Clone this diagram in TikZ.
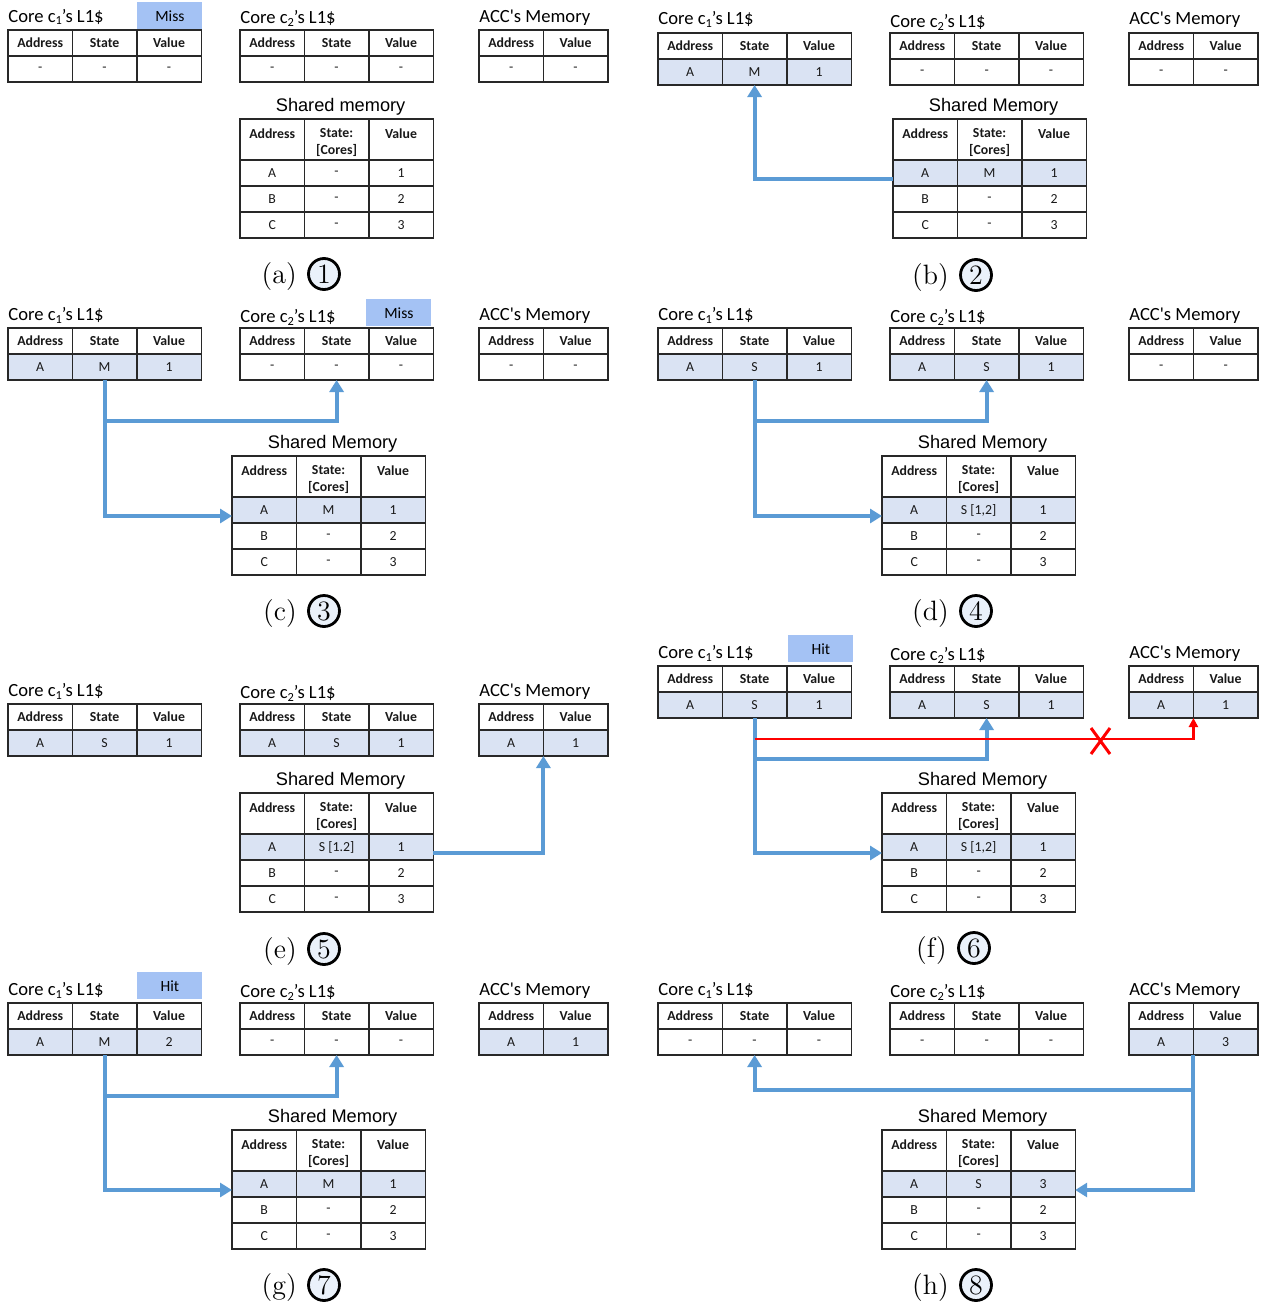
\documentclass[tikz,border=0pt]{standalone}
\usepackage{fontspec}
\usetikzlibrary{arrows.meta,calc}
\newfontfamily\calibri{Carlito}
\newfontfamily\arialf{Liberation Sans}
\definecolor{flowblue}{RGB}{91,155,213}
\definecolor{rowhl}{RGB}{218,227,243}
\definecolor{flagblue}{RGB}{164,194,244}
\definecolor{numfill}{RGB}{234,241,250}
\definecolor{gridline}{RGB}{40,40,40}

\tikzset{
  cell/.style={draw=gridline, line width=0.7pt, anchor=north west, minimum width=32.2pt,
    inner sep=0pt, outer sep=0pt, align=center, text=black!90,
    font=\calibri\fontsize{6.9}{8.5}\selectfont},
  hdr/.style={font=\calibri\bfseries\fontsize{6.9}{8.5}\selectfont},
  hl/.style={fill=rowhl},
  ttl/.style={anchor=base west, inner sep=0pt, font=\calibri\fontsize{9.3}{11}\selectfont},
  shttl/.style={anchor=base, inner sep=0pt, font=\arialf\fontsize{9.1}{11}\selectfont},
  flag/.style={fill=flagblue, anchor=north west, minimum width=32.5pt, minimum height=13.5pt,
    inner sep=0pt, font=\calibri\fontsize{7.8}{9}\selectfont},
  flow/.style={draw=flowblue, line width=2pt, -{Triangle[width=7pt,length=6pt]}},
  blocked/.style={draw=red, line width=1.4pt, -{Triangle[width=4.5pt,length=4.5pt]}},
  capnum/.style={circle, draw=black, line width=1.4pt, fill=numfill, minimum size=15.5pt,
    inner sep=0pt, font=\fontsize{14}{16}\selectfont},
  caplbl/.style={anchor=base east, inner sep=0pt, font=\fontsize{14}{16}\selectfont},
}

% one row of three cells: prefix, x, y, height, style, texts
\newcommand\trirow[8]{%
  \node[cell,#5,minimum height=#4*0.5pt] (#1a) at (#2,#3) {#6};
  \node[cell,#5,minimum height=#4*0.5pt] (#1b) at (#1a.north east) {#7};
  \node[cell,#5,minimum height=#4*0.5pt] (#1c) at (#1b.north east) {#8};}
% one row of two cells
\newcommand\birow[7]{%
  \node[cell,#5,minimum height=#4*0.5pt] (#1a) at (#2,#3) {#6};
  \node[cell,#5,minimum height=#4*0.5pt] (#1b) at (#1a.north east) {#7};}
% L1 cache: name, x, y, title lift, row style, address, state, value, title
\newcommand\cachetable[9]{%
  \trirow{#1h}{#2}{#3}{26}{hdr}{Address}{State}{Value}
  \trirow{#1d}{#2}{#3+26}{26}{#5}{#6}{#7}{#8}
  \node[ttl] (#1t) at ($(#1ha.north west)+(0,-#4)$) {#9};}
% accelerator memory: name, x, y, row style, address, value
\newcommand\acctable[6]{%
  \birow{#1h}{#2}{#3}{26}{hdr}{Address}{Value}
  \birow{#1d}{#2}{#3+26}{26}{#4}{#5}{#6}
  \node[ttl] (#1t) at ($(#1ha.north west)+(0,-8)$) {ACC\symbol{39}s Memory};}
% header strut that lowers the two-line header text a little
\newcommand\hstrut{\rule{0pt}{7.4pt}}
% shared memory: name, x, y, row-A style, state of A, value of A, title
\newcommand\sharedtable[7]{%
  \trirow{#1h}{#2}{#3}{41}{hdr}{\hstrut Address\\~}{\hstrut State:\\{[Cores]}}{\hstrut Value\\~}
  \trirow{#1r1}{#2}{#3+41}{26}{#4}{A}{#5}{#6}
  \trirow{#1r2}{#2}{#3+67}{26}{}{B}{-}{2}
  \trirow{#1r3}{#2}{#3+93}{26}{}{C}{-}{3}
  \node[shttl] (#1t) at ($(#1hb.north)+(4,-8)$) {#7};}
% caption: name, x, y, letter, step number
\newcommand\panelcap[5]{%
  \node[capnum] (#1n) at (#2,#3) {#5};
  \node[caplbl] (#1l) at ($(#1n.west |- #1n.base)+(-10,0)$) {(#4)};}

\newcommand\lowone[1]{\raisebox{-1.5pt}{\fontsize{6.2}{7}\selectfont #1}}
\newcommand\cone{Core c\lowone{1}’s L1\$}
\newcommand\ctwo{Core c\lowone{2}’s L1\$}

\begin{document}
\begin{tikzpicture}[x=0.5pt,y=-0.5pt]
\useasboundingbox[fill=white] (0,0) rectangle (1265,1306);

% (a) step 1
\cachetable{ac1}{8}{30}{8}{}{-}{-}{-}{\cone}
\node[flag] (amiss) at (137,2) {Miss};
\cachetable{ac2}{240}{30}{6}{}{-}{-}{-}{\ctwo}
\acctable{aacc}{479}{30}{}{-}{-}
\sharedtable{as}{240}{119}{}{-}{1}{Shared memory}
\panelcap{a}{324}{274}{a}{1}

% (b) step 2
\cachetable{bc1}{658}{33}{8}{hl}{A}{M}{1}{\cone}
\cachetable{bc2}{890}{33}{6}{}{-}{-}{-}{\ctwo}
\acctable{bacc}{1129}{33}{}{-}{-}
\sharedtable{bs}{893}{119}{hl}{M}{1}{Shared Memory}
\panelcap{b}{976}{275}{b}{2}
\draw[flow] ($(bsr1a.west)+(0,6)$) -| (bc1db.south);

% (c) step 3
\cachetable{cc1}{8}{328}{8}{hl}{A}{M}{1}{\cone}
\cachetable{cc2}{240}{328}{6}{}{-}{-}{-}{\ctwo}
\node[flag] (cmiss) at (366,299) {Miss};
\acctable{cacc}{479}{328}{}{-}{-}
\sharedtable{cs}{232}{456}{hl}{M}{1}{Shared Memory}
\panelcap{c}{324}{611}{c}{3}
\draw[flow] (cc1db.south) |- ($(csr1a.west)+(0,6)$);
\coordinate (cj) at ($(cc1db.south)+(0,41)$);
\draw[flow] (cj) -| (cc2db.south);

% (d) step 4
\cachetable{dc1}{658}{328}{8}{hl}{A}{S}{1}{\cone}
\cachetable{dc2}{890}{328}{6}{hl}{A}{S}{1}{\ctwo}
\acctable{dacc}{1129}{328}{}{-}{-}
\sharedtable{ds}{882}{456}{hl}{S [1,2]}{1}{Shared Memory}
\panelcap{d}{976}{611}{d}{4}
\draw[flow] (dc1db.south) |- ($(dsr1a.west)+(0,6)$);
\coordinate (dj) at ($(dc1db.south)+(0,41)$);
\draw[flow] (dj) -| (dc2db.south);

% (e) step 5
\cachetable{ec1}{8}{704}{8}{hl}{A}{S}{1}{\cone}
\cachetable{ec2}{240}{704}{6}{hl}{A}{S}{1}{\ctwo}
\acctable{eacc}{479}{704}{hl}{A}{1}
\sharedtable{es}{240}{793}{hl}{S [1.2]}{1}{Shared Memory}
\panelcap{e}{324}{949}{e}{5}
\draw[flow] ($(esr1c.east)+(0,6)$) -| (eaccda.south east);

% (f) step 6
\cachetable{fc1}{658}{666}{8}{hl}{A}{S}{1}{\cone}
\node[flag] (fhit) at (788,635) {Hit};
\cachetable{fc2}{890}{666}{6}{hl}{A}{S}{1}{\ctwo}
\acctable{facc}{1129}{666}{hl}{A}{1}
\sharedtable{fs}{882}{793}{hl}{S [1,2]}{1}{Shared Memory}
\panelcap{f}{974}{948}{f}{6}
\draw[flow] (fc1db.south) |- ($(fsr1a.west)+(0,6)$);
\coordinate (fj) at ($(fc1db.south)+(0,41)$);
\draw[flow] (fj) -| (fc2db.south);
\coordinate (fr) at ($(fc1db.south)+(0,21)$);
\draw[blocked] (fr) -| (faccda.south east);
\draw[red, line width=1.5pt] (1091,728) -- (1110,754) (1110,728) -- (1091,754);

% (g) step 7
\cachetable{gc1}{8}{1003}{8}{hl}{A}{M}{2}{\cone}
\node[flag] (ghit) at (137,972) {Hit};
\cachetable{gc2}{240}{1003}{6}{}{-}{-}{-}{\ctwo}
\acctable{gacc}{479}{1003}{hl}{A}{1}
\sharedtable{gs}{232}{1130}{hl}{M}{1}{Shared Memory}
\panelcap{g}{324}{1285}{g}{7}
\draw[flow] (gc1db.south) |- ($(gsr1a.west)+(0,6)$);
\coordinate (gj) at ($(gc1db.south)+(0,41)$);
\draw[flow] (gj) -| (gc2db.south);

% (h) step 8
\cachetable{hc1}{658}{1003}{8}{}{-}{-}{-}{\cone}
\cachetable{hc2}{890}{1003}{6}{}{-}{-}{-}{\ctwo}
\acctable{hacc}{1129}{1003}{hl}{A}{3}
\sharedtable{hs}{882}{1130}{hl}{S}{3}{Shared Memory}
\panelcap{h}{976}{1285}{h}{8}
\draw[flow] (haccda.south east) |- ($(hsr1c.east)+(0,6)$);
\coordinate (hj) at ($(haccda.south east)+(0,35)$);
\draw[flow] (hj) -| (hc1db.south);
\end{tikzpicture}
\end{document}
